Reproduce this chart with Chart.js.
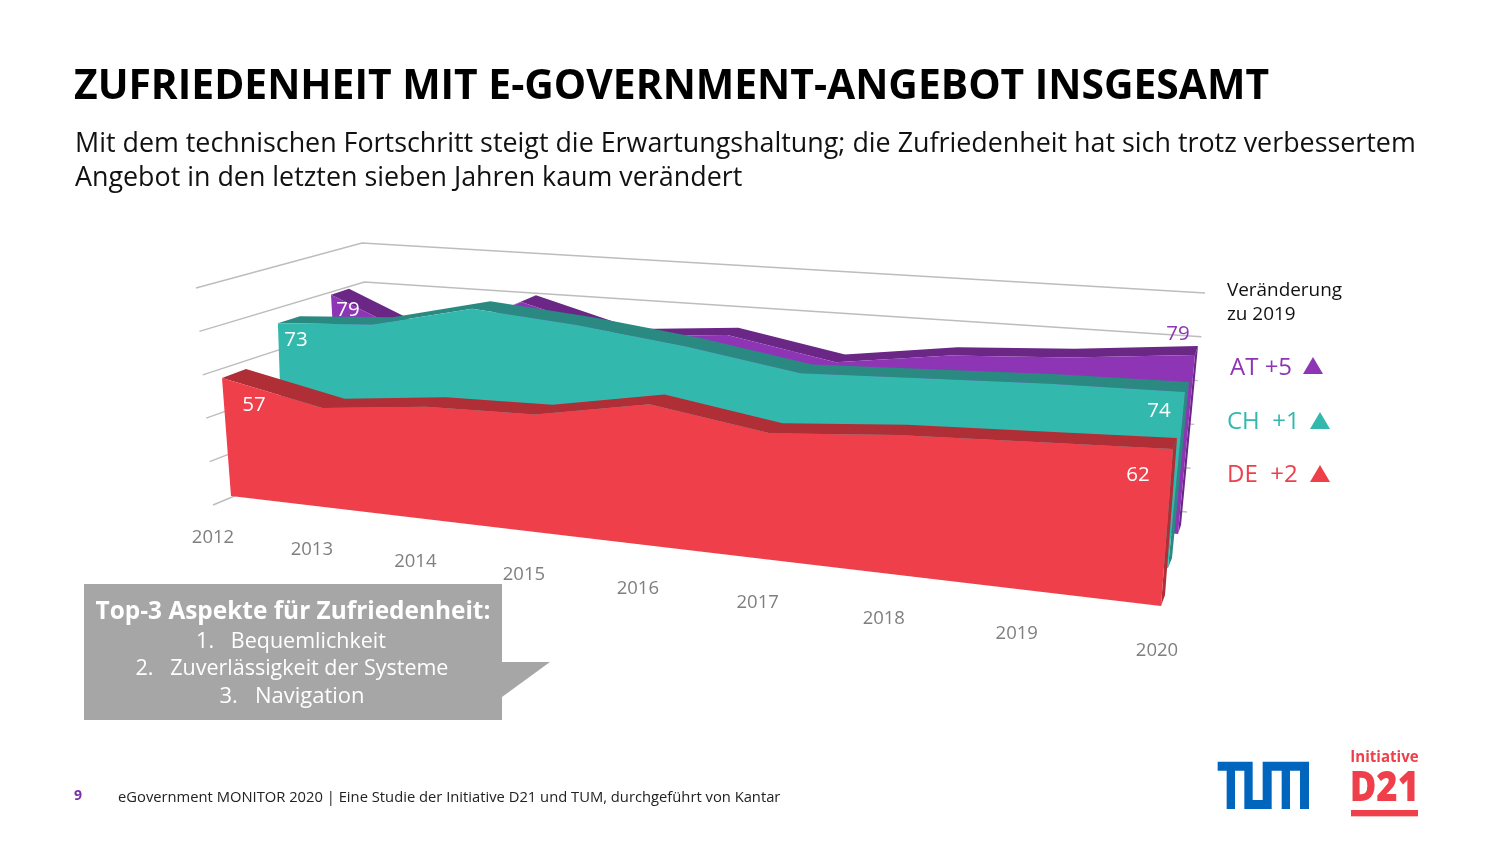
<!DOCTYPE html>
<html lang="de">
<head>
<meta charset="utf-8">
<title>Zufriedenheit mit E-Government-Angebot insgesamt</title>
<script src="https://cdn.jsdelivr.net/npm/chart.js@4"></script>
<style>
  html, body { margin: 0; padding: 0; background: #fff; }
  body { width: 1500px; height: 844px; overflow: hidden; position: relative; font-family: "Open Sans", sans-serif; }
  canvas { position: absolute; left: 0; top: 0; }
  .t { position: absolute; white-space: nowrap; line-height: 1; }
  .tri { position: absolute; width: 20px; height: 17px; clip-path: polygon(50% 0, 100% 100%, 0 100%); }
  #callout { position: absolute; left: 84px; top: 584px; width: 418px; height: 136px; background: #a6a6a6; color: #fff; text-align: center; }
  #tail { position: absolute; left: 502px; top: 662px; width: 48px; height: 35px; background: #a6a6a6; clip-path: polygon(0 0, 100% 0, 0 100%); }
  #callout div { position: absolute; left: 0; width: 100%; white-space: nowrap; line-height: 1; }
</style>
</head>
<body>
<canvas id="chart" width="1500" height="844"></canvas>

<div class="t" id="title" style="left:74px;top:63px;font-size:40.8px;font-weight:700;color:#000;">ZUFRIEDENHEIT MIT E-GOVERNMENT-ANGEBOT INSGESAMT</div>
<div class="t" style="left:75px;top:129px;font-size:26.85px;color:#111;">Mit dem technischen Fortschritt steigt die Erwartungshaltung; die Zufriedenheit hat sich trotz verbessertem</div>
<div class="t" style="left:75px;top:163px;font-size:26.85px;color:#111;">Angebot in den letzten sieben Jahren kaum verändert</div>

<div class="t" style="left:1227px;top:280px;font-size:18.9px;color:#111;">Veränderung</div>
<div class="t" style="left:1227px;top:304px;font-size:18.9px;color:#111;">zu 2019</div>
<div class="t" style="left:1230px;top:354px;font-size:24px;color:#8e35b5;">AT +5</div>
<div class="tri" style="left:1303px;top:357px;background:#8e35b5;"></div>
<div class="t" style="left:1227px;top:408px;font-size:24px;color:#33b8ae;white-space:pre;">CH  +1</div>
<div class="tri" style="left:1310px;top:412px;background:#33b8ae;"></div>
<div class="t" style="left:1227px;top:461px;font-size:24px;color:#ee3f4a;white-space:pre;">DE  +2</div>
<div class="tri" style="left:1310px;top:465px;background:#ee3f4a;"></div>

<div id="callout">
  <div style="top:14px;font-size:24.4px;font-weight:700;">Top-3 Aspekte für Zufriedenheit:</div>
  <div style="top:45px;font-size:21.5px;left:-2px;">1.&nbsp;&nbsp;&nbsp;Bequemlichkeit</div>
  <div style="top:72px;font-size:21.5px;left:-1px;">2.&nbsp;&nbsp;&nbsp;Zuverlässigkeit der Systeme</div>
  <div style="top:99px;font-size:22px;left:-1px;">3.&nbsp;&nbsp;&nbsp;Navigation</div>
</div>
<div id="tail"></div>

<div class="t" style="left:74px;top:788px;font-size:14px;font-weight:700;color:#7b2fa8;">9</div>
<div class="t" style="left:118px;top:789px;font-size:14.75px;color:#222;">eGovernment MONITOR 2020 | Eine Studie der Initiative D21 und TUM, durchgeführt von Kantar</div>

<svg style="position:absolute;left:1200px;top:740px" width="240" height="90" viewBox="0 0 720 270">
  <path fill="#0065bd" d="M53 65H158V180H188V65H327V207H300V92H270V207H245V92H215V207H133V92H105V207H80V92H53Z"/>
  <text x="451" y="66" font-family="Open Sans" font-weight="700" font-size="47" fill="#ee3f4a" textLength="205" lengthAdjust="spacingAndGlyphs">Initiative</text>
  <text x="449" y="183" font-family="Open Sans" font-weight="800" font-size="126" fill="#ee3f4a" textLength="208" lengthAdjust="spacingAndGlyphs">D21</text>
  <rect x="453" y="210" width="201" height="19" fill="#ee3f4a"/>
</svg>

<script>
// values
const years = ["2012", "2013", "2014", "2015", "2016", "2017", "2018", "2019", "2020"];
const atValues = [79, 59, 82, 69, 73, 64, 71, 74, 79];
const chValues = [73, 76, 87, 83, 77, 69, 71, 73, 74];
const deValues = [57, 47, 52, 53, 62, 54, 58, 60, 62];
const gridValues = [0, 20, 40, 60, 80, 100];

// the perspective: corners of each series' front face, as page pixels
const planes = {
  at: { squeeze: -0.019, baseL: [340, 452], topL: [328.6, 253], baseR: [1178, 534], topR: [1199.5, 307.4], depthL: [18, -6], depthR: [3, -9] },
  ch: { squeeze: -0.0227, baseL: [283, 473], topL: [276, 268], baseR: [1168, 568], topR: [1191, 330], depthL: [22, -7], depthR: [4, -10] },
  de: { squeeze: -0.0227, baseL: [231, 496], topL: [215.2, 289], baseR: [1161, 606], topR: [1180.4, 352.8], depthL: [24, -9], depthR: [4, -11] }
};
const sideWall = { frontBase: [213, 505], frontTop: [196, 288] };
const backWall = { baseL: [374, 438], topL: [362, 243], baseR: [1187, 512], topR: [1205, 293] };
const yearAxis = { squeeze: -0.0227, from: [213, 538], to: [1157, 651] };

const lerp = (a, b, f) => [a[0] + (b[0] - a[0]) * f, a[1] + (b[1] - a[1]) * f];
// far years are squeezed: fraction of the way along the axis for a year index
const along = (i, b) => (1 + 8 * b) / 8 * i / (1 + b * i);

function front(plane, i, value) {
  const s = along(i, plane.squeeze);
  return lerp(lerp(plane.baseL, plane.baseR, s), lerp(plane.topL, plane.topR, s), value / 100);
}
function behind(plane, i, value) {
  const p = front(plane, i, value);
  const d = lerp(plane.depthL, plane.depthR, along(i, plane.squeeze));
  return [p[0] + d[0], p[1] + d[1]];
}
const pt = p => ({ x: p[0], y: p[1] });

const datasets = [];
function addPolygon(points, color) {
  datasets.push({ data: points.map(pt), polygon: true, backgroundColor: color, showLine: false, pointRadius: 0, order: 1000 - datasets.length });
}
function addLine(points, color) {
  datasets.push({ data: points.map(pt), showLine: true, borderColor: color, borderWidth: 1.4, pointRadius: 0, order: 1000 - datasets.length });
}

gridValues.forEach(v => {
  const f = v / 100;
  const corner = lerp(backWall.baseL, backWall.topL, f);
  addLine([lerp(sideWall.frontBase, sideWall.frontTop, f), corner, lerp(backWall.baseR, backWall.topR, f)], "#bdbdbd");
});

function addSeries(plane, values, faceColor, darkColor) {
  const last = values.length - 1;
  const topFront = values.map((v, i) => front(plane, i, v));
  const topBack = values.map((v, i) => behind(plane, i, v));
  addPolygon([...topFront, ...topBack.slice().reverse()], darkColor);
  addPolygon([front(plane, last, values[last]), front(plane, last, 0), behind(plane, last, 0), behind(plane, last, values[last])], darkColor);
  addPolygon([front(plane, 0, 0), ...topFront, front(plane, last, 0)], faceColor);
}
addSeries(planes.at, atValues, "#8e35b5", "#6a2785");
addSeries(planes.ch, chValues, "#33b8ae", "#2a8a82");
addSeries(planes.de, deValues, "#ee3f4a", "#b02e35");

// the two end labels of each series, with their offset from the corner point
const valueLabels = [
  { plane: planes.at, values: atValues, i: 0, dx: 17, dy: 15, color: "#fff" },
  { plane: planes.at, values: atValues, i: 8, dx: -17, dy: -21, color: "#8e35b5" },
  { plane: planes.ch, values: chValues, i: 0, dx: 18, dy: 17, color: "#fff" },
  { plane: planes.ch, values: chValues, i: 8, dx: -26, dy: 19, color: "#fff" },
  { plane: planes.de, values: deValues, i: 0, dx: 32, dy: 27, color: "#fff" },
  { plane: planes.de, values: deValues, i: 8, dx: -35, dy: 26, color: "#fff" }
];

const faces = {
  id: "faces",
  beforeDatasetDraw(chart, args) {
    const ds = chart.data.datasets[args.index];
    if (!ds.polygon) return;
    const ctx = chart.ctx;
    ctx.save();
    ctx.beginPath();
    args.meta.data.forEach((p, i) => (i ? ctx.lineTo(p.x, p.y) : ctx.moveTo(p.x, p.y)));
    ctx.closePath();
    ctx.fillStyle = ds.backgroundColor;
    ctx.fill();
    ctx.restore();
  }
};

const labels = {
  id: "labels",
  afterDatasetsDraw(chart) {
    const { ctx, scales } = chart;
    ctx.save();
    ctx.textAlign = "center";
    ctx.textBaseline = "middle";
    ctx.font = '18.5px "Open Sans"';
    ctx.fillStyle = "#7f7f7f";
    years.forEach((y, i) => {
      const p = lerp(yearAxis.from, yearAxis.to, along(i, yearAxis.squeeze));
      ctx.fillText(y, scales.x.getPixelForValue(p[0]), scales.y.getPixelForValue(p[1]));
    });
    ctx.font = '20.5px "Open Sans"';
    valueLabels.forEach(l => {
      const p = front(l.plane, l.i, l.values[l.i]);
      ctx.fillStyle = l.color;
      ctx.fillText(String(l.values[l.i]), scales.x.getPixelForValue(p[0]) + l.dx, scales.y.getPixelForValue(p[1]) + l.dy);
    });
    ctx.restore();
  }
};

new Chart(document.getElementById("chart"), {
  type: "scatter",
  data: { datasets },
  options: {
    responsive: false,
    animation: false,
    layout: { padding: 0 },
    plugins: { legend: { display: false }, tooltip: { enabled: false } },
    scales: {
      x: { type: "linear", min: 0, max: 1500, display: false },
      y: { type: "linear", min: 0, max: 844, reverse: true, display: false }
    }
  },
  plugins: [faces, labels]
});
</script>
</body>
</html>
